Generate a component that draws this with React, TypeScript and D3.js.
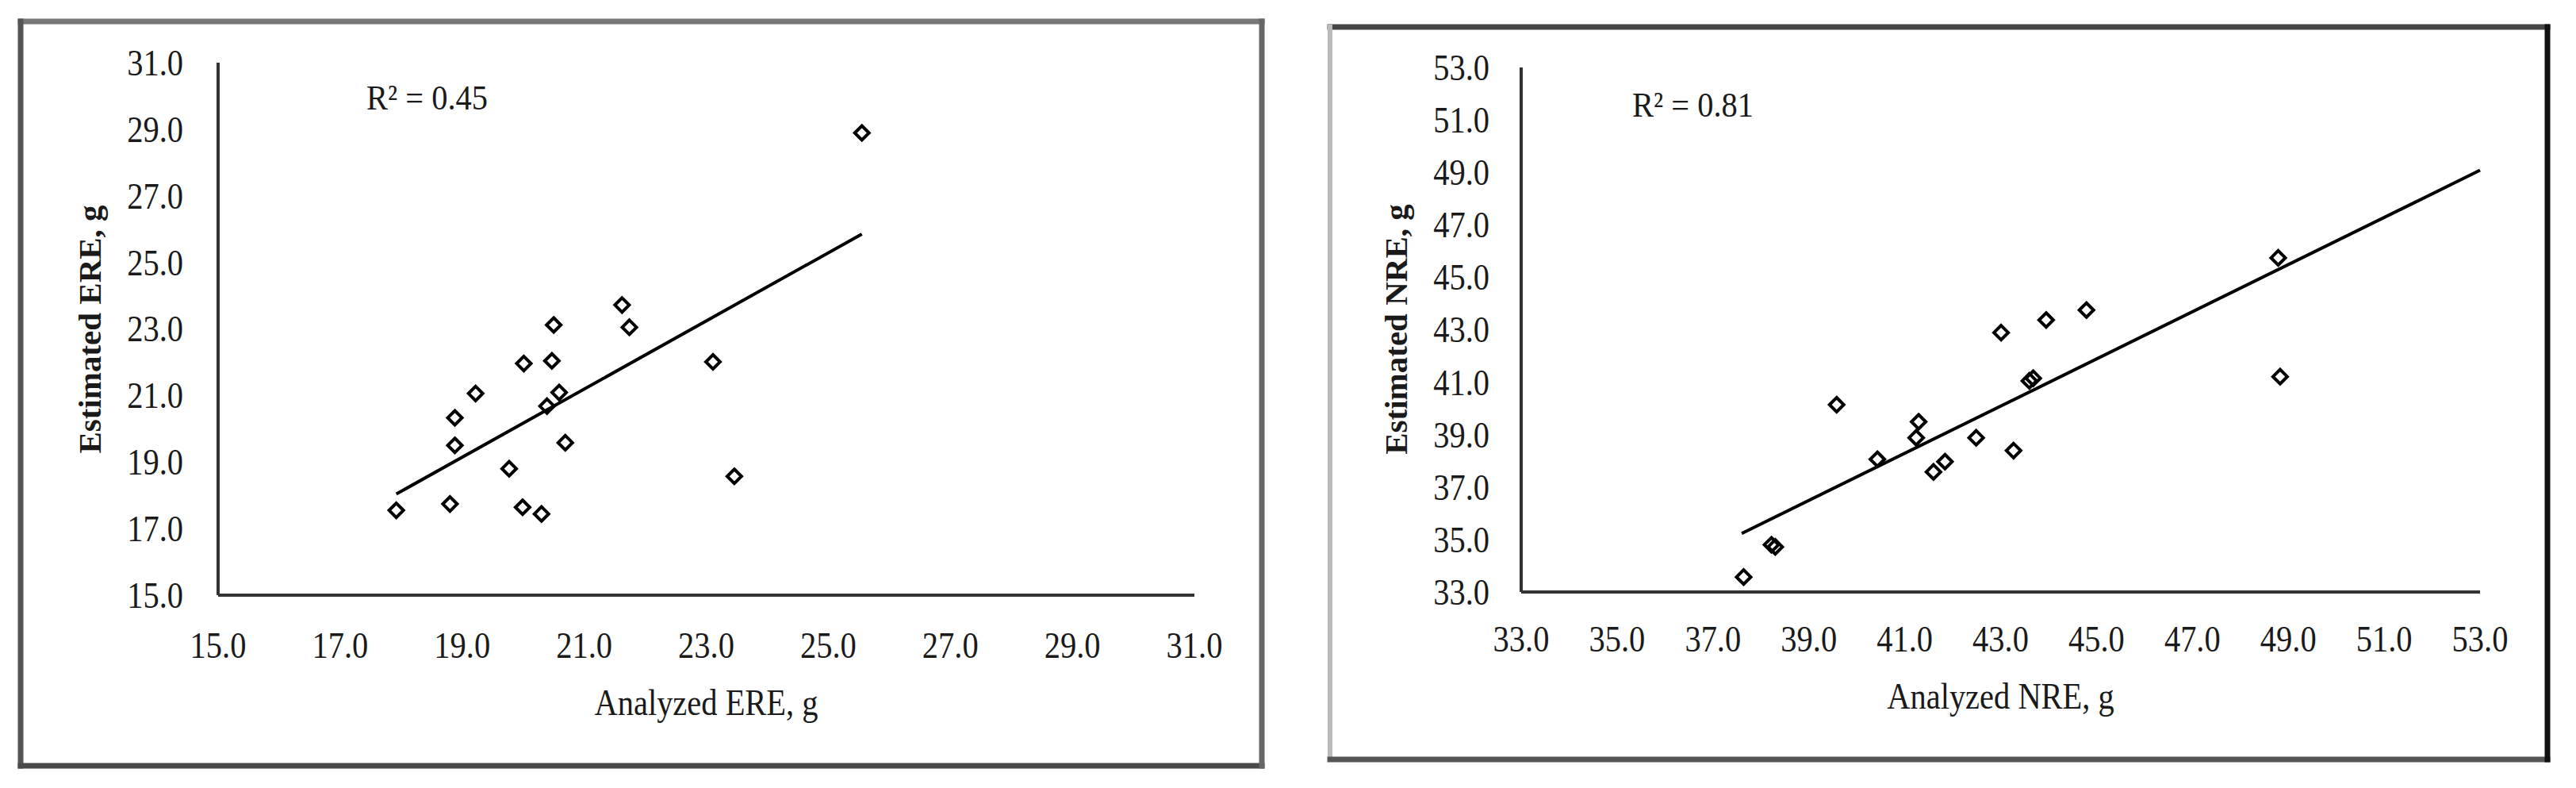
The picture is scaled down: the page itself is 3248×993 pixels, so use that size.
import React from "react";
import * as d3 from "d3";

// ---- Data ----
const ereAnalyzed = [17.92, 18.8, 18.88, 18.88, 19.22, 19.77, 19.99, 20.01, 20.3, 20.39, 20.47, 20.5, 20.59, 20.69, 21.62, 21.74, 23.11, 23.46, 25.55];
const ereEstimated = [17.55, 17.74, 19.5, 20.33, 21.06, 18.8, 17.64, 21.96, 17.44, 20.68, 22.04, 23.12, 21.09, 19.58, 23.72, 23.05, 22.01, 18.57, 28.89];
const ereTrendX = [17.92, 25.55];
const ereTrendY = [18.04, 25.85];
const ereTicks = [15, 17, 19, 21, 23, 25, 27, 29, 31];
const ereR2 = "R² = 0.45";

const nreAnalyzed = [37.64, 38.22, 38.3, 39.58, 40.43, 41.29, 41.24, 41.6, 41.84, 42.49, 43.01, 43.27, 43.6, 43.68, 43.95, 44.79, 48.79, 48.83];
const nreEstimated = [33.57, 34.8, 34.72, 40.14, 38.06, 39.49, 38.88, 37.58, 37.97, 38.88, 42.89, 38.39, 41.05, 41.15, 43.37, 43.75, 45.74, 41.21];
const nreTrendX = [37.6, 53.0];
const nreTrendY = [35.23, 49.08];
const nreTicks = [33, 35, 37, 39, 41, 43, 45, 47, 49, 51, 53];
const nreR2 = "R² = 0.81";

const FONT = "'Liberation Serif', 'Times New Roman', serif";

const diamond = {
  draw(ctx: any, size: number) {
    const r = Math.sqrt(size) / 2;
    ctx.moveTo(0, -r);
    ctx.lineTo(r, 0);
    ctx.lineTo(0, r);
    ctx.lineTo(-r, 0);
    ctx.closePath();
  },
};
const markerPath = d3.symbol().type(diamond as any).size(18 * 18)() as string;

type PanelProps = {
  xs: number[];
  ys: number[];
  trendX: number[];
  trendY: number[];
  ticks: number[];
  r2: string;
  xRange: [number, number];
  yRange: [number, number];
  xTitle: string;
  yTitle: string;
  yTitleX: number;
  yTitleY: number;
  r2X: number;
  r2Y: number;
  xLabelY: number;
  yLabelRight: number;
  borders: { x1: number; y1: number; x2: number; y2: number; color: string; w: number }[];
};

function Txt({ x, y, text, anchor = "middle", size = 46, sx = 0.88, weight = "normal" }: any) {
  return (
    <text
      transform={`translate(${x},${y}) scale(${sx},1)`}
      textAnchor={anchor}
      dominantBaseline="central"
      fontFamily={FONT}
      fontSize={size}
      fontWeight={weight}
      fill="#1a1a1a"
    >
      {text}
    </text>
  );
}

function Panel(p: PanelProps) {
  const dom = [p.ticks[0], p.ticks[p.ticks.length - 1]];
  const x = d3.scaleLinear().domain(dom).range(p.xRange);
  const y = d3.scaleLinear().domain(dom).range(p.yRange);
  const line = d3
    .line<number>()
    .x((_, i) => x(p.trendX[i]))
    .y((d) => y(d));
  const x0 = x(dom[0]);
  const y0 = y(dom[0]);
  return (
    <g>
      {p.borders.map((b, i) => (
        <line key={i} x1={b.x1} y1={b.y1} x2={b.x2} y2={b.y2} stroke={b.color} strokeWidth={b.w} strokeLinecap="square" />
      ))}
      {/* axes */}
      <line x1={x0} y1={y(dom[1])} x2={x0} y2={y0} stroke="#333" strokeWidth={4} />
      <line x1={x0} y1={y0} x2={x(dom[1])} y2={y0} stroke="#333" strokeWidth={4} />
      {/* tick labels */}
      {p.ticks.map((t) => (
        <Txt key={"y" + t} x={p.yLabelRight} y={y(t)} text={t.toFixed(1)} anchor="end" />
      ))}
      {p.ticks.map((t) => (
        <Txt key={"x" + t} x={x(t)} y={p.xLabelY} text={t.toFixed(1)} />
      ))}
      {/* trend line */}
      <path d={line(p.trendY) || ""} fill="none" stroke="#000" strokeWidth={4} />
      {/* points */}
      {p.xs.map((v, i) => (
        <path
          key={i}
          d={markerPath}
          transform={`translate(${x(v)},${y(p.ys[i])})`}
          fill="none"
          stroke="#000"
          strokeWidth={4}
        />
      ))}
      {/* R2 */}
      <Txt x={p.r2X} y={p.r2Y} text={p.r2} anchor="start" size={44} sx={0.92} />
      {/* titles */}
      <Txt x={(x0 + x(dom[1])) / 2} y={885 - (p.xLabelY === 805 ? 8 : 0)} text={p.xTitle} size={46} sx={0.88} />
      <text
        transform={`translate(${p.yTitleX},${p.yTitleY}) rotate(-90)`}
        textAnchor="middle"
        dominantBaseline="central"
        fontFamily={FONT}
        fontSize={41}
        fontWeight="bold"
        fill="#1a1a1a"
      >
        {p.yTitle}
      </text>
    </g>
  );
}

export default function App() {
  return (
    <svg
      width={3248}
      height={993}
      style={{ position: "absolute", left: 0, top: 0, background: "#fff" }}
    >
      <rect x={0} y={0} width={3248} height={993} fill="#fff" />
      <Panel
        xs={ereAnalyzed}
        ys={ereEstimated}
        trendX={ereTrendX}
        trendY={ereTrendY}
        ticks={ereTicks}
        r2={ereR2}
        xRange={[275, 1506]}
        yRange={[750, 79]}
        xTitle="Analyzed ERE, g"
        yTitle="Estimated ERE, g"
        yTitleX={113}
        yTitleY={415}
        r2X={462}
        r2Y={123}
        xLabelY={813}
        yLabelRight={231}
        borders={[
          { x1: 26, y1: 27, x2: 1591, y2: 27, color: "#777", w: 7 },
          { x1: 26, y1: 27, x2: 26, y2: 965, color: "#555", w: 7 },
          { x1: 26, y1: 965, x2: 1591, y2: 965, color: "#4a4a4a", w: 7 },
          { x1: 1591, y1: 27, x2: 1591, y2: 965, color: "#666", w: 7 },
        ]}
      />
      <Panel
        xs={nreAnalyzed}
        ys={nreEstimated}
        trendX={nreTrendX}
        trendY={nreTrendY}
        ticks={nreTicks}
        r2={nreR2}
        xRange={[1918, 3127]}
        yRange={[746, 85]}
        xTitle="Analyzed NRE, g"
        yTitle="Estimated NRE, g"
        yTitleX={1760}
        yTitleY={415}
        r2X={2058}
        r2Y={132}
        xLabelY={805}
        yLabelRight={1878}
        borders={[
          { x1: 1677, y1: 34, x2: 3212, y2: 34, color: "#444", w: 7 },
          { x1: 1677, y1: 34, x2: 1677, y2: 957, color: "#bbb", w: 6 },
          { x1: 1677, y1: 957, x2: 3212, y2: 957, color: "#555", w: 7 },
          { x1: 3212, y1: 34, x2: 3212, y2: 957, color: "#111", w: 7 },
        ]}
      />
    </svg>
  );
}
